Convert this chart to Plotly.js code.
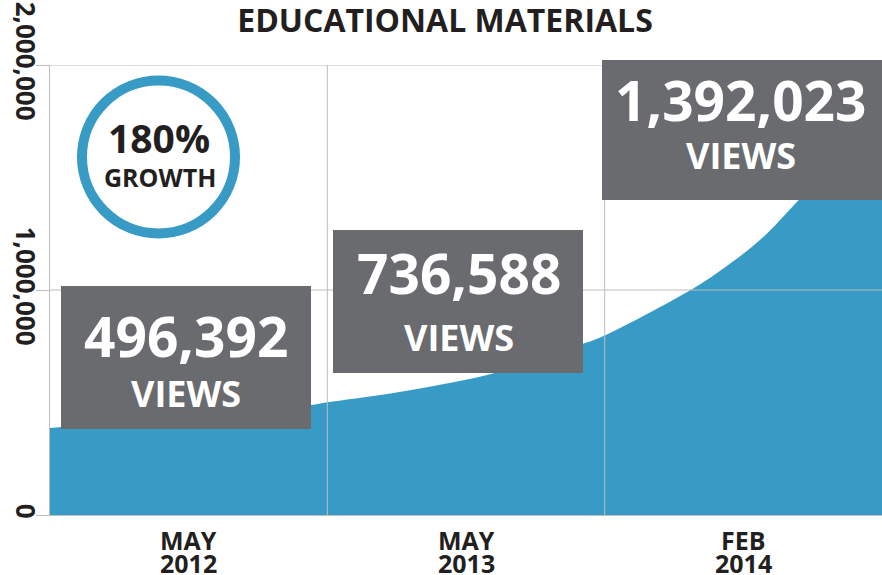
<!DOCTYPE html>
<html>
<head>
<meta charset="utf-8">
<script src="https://cdn.plot.ly/plotly-3.0.1.min.js"></script>
<style>html,body{margin:0;padding:0;background:#fff;}#chart{width:882px;height:575px;}</style>
</head>
<body>
<div id="chart"></div>
<script>
// ---- data ----
var chartTitle = "EDUCATIONAL MATERIALS";
var months = ["MAY", "MAY", "FEB"];
var years = ["2012", "2013", "2014"];
var views = [496392, 736588, 1392023];
var viewsLabel = "VIEWS";
var growthLabel = "GROWTH";
// decorative growth curve (x in period units, y in views)
var curveX = [0, 0.94, 0.99, 1.26, 1.44, 1.59, 1.91, 1.99, 2.31, 2.42, 2.56, 2.70, 3.0];
var curveY = [387000, 489000, 499000, 547000, 587000, 627000, 756000, 792000, 1000000, 1089000, 1222000, 1400000, 1800000];
var yTickVals = [0, 1000000, 2000000];
var yTickText = ["0", "1,000,000", "2,000,000"];
var periodBounds = [0, 1, 2, 3];

// ---- styling / layout helpers ----
var BLUE = "#379bc5", GRAY = "#6a6b6f", GRID = "#bdbdbd", INK = "#231f20";
var FONT = "Open Sans, Noto Sans, sans-serif";
var W = 882, H = 575, L = 50, T = 65, B = 60, R = 0;
function px(x) { return (x - L) / (W - L - R); }
function py(y) { return (H - B - y) / (H - T - B); }
function fmt(n) { return n.toLocaleString("en-US"); }

var shapes = [];
// interior gridlines (above the fill, below the boxes)
yTickVals.slice(1).forEach(function (v) {
  shapes.push({type: "line", xref: "paper", yref: "y", x0: 0, x1: 1, y0: v, y1: v,
    line: {color: GRID, width: 1}, layer: "above"});
});
periodBounds.slice(1, 3).forEach(function (b) {
  shapes.push({type: "line", xref: "x", yref: "paper", x0: b, x1: b, y0: 0, y1: 1,
    line: {color: GRID, width: 1}, layer: "above"});
});

// value boxes (pixel frames)
var boxes = [
  {x0: 61, x1: 311, y0: 286, y1: 429, cx: 186, ny: 335, vy: 394},
  {x0: 333, x1: 583, y0: 230, y1: 373, cx: 459, ny: 272, vy: 337},
  {x0: 602, x1: 882, y0: 60, y1: 200, cx: 741, ny: 100, vy: 155}
];
var annotations = [];
boxes.forEach(function (b, i) {
  shapes.push({type: "rect", xref: "paper", yref: "paper",
    x0: px(b.x0), x1: px(b.x1), y0: py(b.y1), y1: py(b.y0),
    fillcolor: GRAY, line: {width: 0}, layer: "above"});
  annotations.push({xref: "paper", yref: "paper", x: px(b.cx), y: py(b.ny),
    xanchor: "center", yanchor: "middle", showarrow: false,
    text: "<b>" + fmt(views[i]) + "</b>", font: {family: FONT, size: 55, color: "#ffffff"}});
  annotations.push({xref: "paper", yref: "paper", x: px(b.cx), y: py(b.vy),
    xanchor: "center", yanchor: "middle", showarrow: false,
    text: "<b>" + viewsLabel + "</b>", font: {family: FONT, size: 36, color: "#ffffff"}});
});

// growth circle
var growthPct = Math.round((views[2] / views[0] - 1) * 100);
shapes.push({type: "circle", xref: "paper", yref: "paper",
  x0: px(158.5 - 76.5), x1: px(158.5 + 76.5), y0: py(157 + 76.5), y1: py(157 - 76.5),
  line: {color: BLUE, width: 10}, fillcolor: "rgba(0,0,0,0)", layer: "above"});
annotations.push({xref: "paper", yref: "paper", x: px(159), y: py(137),
  xanchor: "center", yanchor: "middle", showarrow: false,
  text: "<b>" + growthPct + "%</b>", font: {family: FONT, size: 39, color: INK}});
annotations.push({xref: "paper", yref: "paper", x: px(160), y: py(177),
  xanchor: "center", yanchor: "middle", showarrow: false,
  text: "<b>" + growthLabel + "</b>", font: {family: FONT, size: 25, color: INK}});

// period labels (two tight lines)
months.forEach(function (m, i) {
  annotations.push({xref: "x", yref: "paper", x: i + 0.5, y: py(540),
    xanchor: "center", yanchor: "middle", showarrow: false,
    text: "<b>" + m + "</b>", font: {family: FONT, size: 25, color: INK}});
  annotations.push({xref: "x", yref: "paper", x: i + 0.5, y: py(563),
    xanchor: "center", yanchor: "middle", showarrow: false,
    text: "<b>" + years[i] + "</b>", font: {family: FONT, size: 25, color: INK}});
});

var trace = {
  type: "scatter", mode: "lines", x: curveX, y: curveY,
  line: {width: 0, shape: "spline", color: BLUE},
  fill: "tozeroy", fillcolor: BLUE, hoverinfo: "skip", showlegend: false
};

var layout = {
  width: W, height: H,
  margin: {l: L, r: R, t: T, b: B},
  paper_bgcolor: "#ffffff", plot_bgcolor: "#ffffff",
  title: {text: "<b>" + chartTitle + "</b>", x: 445 / W, xanchor: "center",
    y: 1 - 21 / H, yanchor: "middle", yref: "container",
    font: {family: FONT, size: 32, color: INK}},
  xaxis: {range: [0, 3], showgrid: false, zeroline: false, showticklabels: false,
    ticks: "", showline: true, linecolor: GRID, linewidth: 1, fixedrange: true},
  yaxis: {range: [0, 2000000], showgrid: false, zeroline: false,
    tickmode: "array", tickvals: yTickVals, ticktext: yTickText, tickangle: 90,
    ticks: "outside", ticklen: 13, tickcolor: GRID, tickwidth: 1,
    showline: true, linecolor: GRID, linewidth: 1, ticklabelstandoff: -11,
    tickfont: {family: FONT, size: 26, color: INK, weight: 700}, fixedrange: true},
  shapes: shapes,
  annotations: annotations,
  showlegend: false
};

Plotly.newPlot("chart", [trace], layout, {staticPlot: true, displayModeBar: false});
</script>
</body>
</html>
